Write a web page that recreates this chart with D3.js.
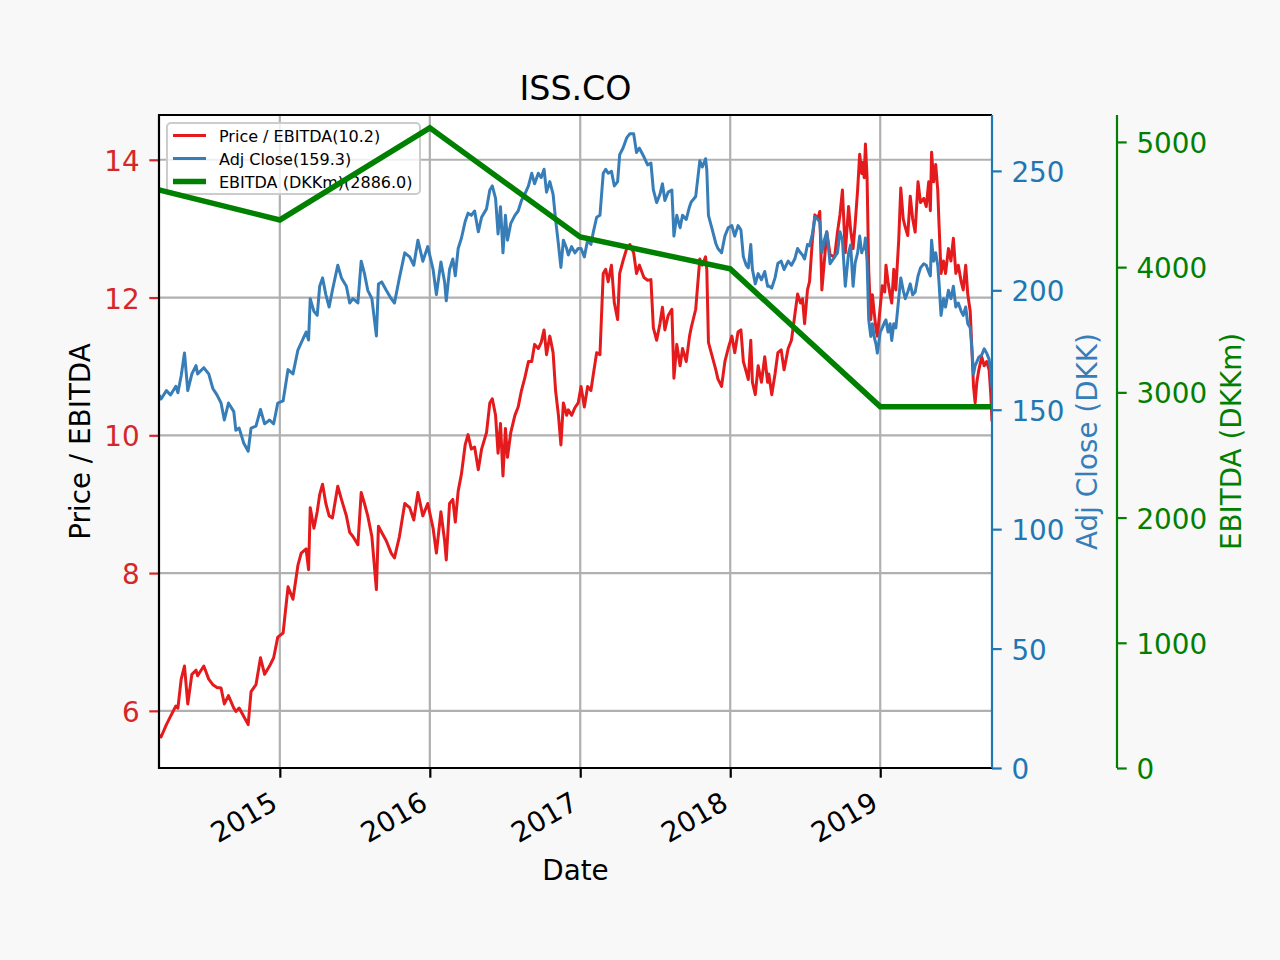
<!DOCTYPE html>
<html>
<head>
<meta charset="utf-8">
<script src="https://d3js.org/d3.v7.min.js"></script>
<style>
  body { margin: 0; background: #f8f8f8; }
  svg { display: block; font-family: "DejaVu Sans", sans-serif; }
</style>
</head>
<body>
<script>
// ---- data ----
const dates = [
  '2014-03-13','2014-03-18','2014-03-31','2014-04-10','2014-04-23','2014-04-28','2014-05-06','2014-05-14','2014-05-22','2014-06-01','2014-06-11','2014-06-15','2014-06-30','2014-07-12','2014-07-22','2014-08-01','2014-08-11','2014-08-19','2014-08-29','2014-09-11','2014-09-16','2014-09-24','2014-10-05','2014-10-16','2014-10-23','2014-11-04','2014-11-15','2014-11-25','2014-12-07','2014-12-17','2014-12-27',
  '2015-01-09','2015-01-21','2015-02-02','2015-02-14','2015-02-22','2015-03-06','2015-03-12','2015-03-16','2015-03-25','2015-04-02','2015-04-08','2015-04-15','2015-04-23','2015-05-01','2015-05-09','2015-05-22','2015-05-31','2015-06-12','2015-06-20','2015-06-28','2015-07-10','2015-07-18','2015-07-26','2015-08-03','2015-08-13','2015-08-24','2015-08-29','2015-09-06','2015-09-17','2015-09-29','2015-10-07','2015-10-19','2015-11-01','2015-11-13','2015-11-23','2015-12-03','2015-12-15','2015-12-27',
  '2016-01-09','2016-01-17','2016-01-28','2016-02-06','2016-02-10','2016-02-18','2016-02-26','2016-03-03','2016-03-10','2016-03-18','2016-03-27','2016-04-03','2016-04-11','2016-04-19','2016-04-28','2016-05-06','2016-05-18','2016-05-26','2016-06-01','2016-06-09','2016-06-15','2016-06-21','2016-06-27','2016-07-03','2016-07-08','2016-07-16','2016-07-26','2016-08-03','2016-08-11','2016-08-19','2016-08-28','2016-09-05','2016-09-12','2016-09-21','2016-09-28','2016-10-05','2016-10-11','2016-10-19','2016-10-27','2016-11-02','2016-11-09','2016-11-15','2016-11-21','2016-11-29','2016-12-03','2016-12-11','2016-12-19','2016-12-27',
  '2017-01-03','2017-01-11','2017-01-19','2017-01-27','2017-02-02','2017-02-10','2017-02-18','2017-02-26','2017-03-04','2017-03-10','2017-03-18','2017-03-25','2017-04-02','2017-04-07','2017-04-15','2017-04-24','2017-05-02','2017-05-11','2017-05-18','2017-05-25','2017-06-05','2017-06-14','2017-06-22','2017-06-28','2017-07-06','2017-07-14','2017-07-20','2017-07-26','2017-08-03','2017-08-12','2017-08-17','2017-08-24','2017-09-01','2017-09-07','2017-09-16','2017-09-24','2017-09-28','2017-10-09','2017-10-19','2017-10-25','2017-11-02','2017-11-05','2017-11-09','2017-11-17','2017-11-27','2017-12-02','2017-12-11','2017-12-19','2017-12-27',
  '2018-01-05','2018-01-12','2018-01-20','2018-01-27','2018-02-02','2018-02-09','2018-02-14','2018-02-20','2018-02-24','2018-03-03','2018-03-10','2018-03-18','2018-03-26','2018-04-02','2018-04-05','2018-04-12','2018-04-20','2018-04-27','2018-05-05','2018-05-12','2018-05-22','2018-05-30','2018-06-07','2018-06-14','2018-06-21','2018-06-26','2018-07-01','2018-07-08','2018-07-13','2018-07-20','2018-07-26','2018-08-02','2018-08-07','2018-08-12','2018-08-18','2018-08-24','2018-09-01','2018-09-12','2018-09-19','2018-09-25','2018-10-01','2018-10-08','2018-10-16','2018-10-21','2018-10-27','2018-11-01','2018-11-07','2018-11-12','2018-11-17','2018-11-19','2018-11-23','2018-11-26','2018-11-30','2018-12-04','2018-12-09','2018-12-13','2018-12-17','2018-12-22','2018-12-25',
  '2019-01-01','2019-01-06','2019-01-12','2019-01-15','2019-01-20','2019-01-25','2019-01-29','2019-02-03','2019-02-08','2019-02-15','2019-02-20','2019-02-26','2019-03-03','2019-03-09','2019-03-15','2019-03-21','2019-03-27','2019-04-03','2019-04-09','2019-04-17','2019-04-23','2019-04-29','2019-05-03','2019-05-06','2019-05-11','2019-05-16','2019-05-21','2019-05-24','2019-05-29','2019-06-04','2019-06-09','2019-06-16','2019-06-22','2019-06-28','2019-07-04','2019-07-10','2019-07-17','2019-07-22','2019-07-28','2019-08-02','2019-08-08','2019-08-12','2019-08-16','2019-08-20','2019-08-24','2019-08-29','2019-09-05','2019-09-11','2019-09-17','2019-09-23','2019-09-27','2019-09-30'
];
const priceEbitda = [
  5.65,5.62,5.80,5.92,6.07,6.04,6.46,6.65,6.10,6.53,6.59,6.51,6.65,6.46,6.38,6.34,6.33,6.10,6.22,6.04,5.99,6.04,5.92,5.80,6.28,6.38,6.77,6.53,6.65,6.77,7.07,
  7.13,7.80,7.62,8.11,8.29,8.35,8.05,8.95,8.65,8.89,9.14,9.29,9.01,8.83,8.80,9.26,9.07,8.83,8.59,8.53,8.41,9.17,9.01,8.83,8.53,7.76,8.68,8.59,8.47,8.29,8.22,8.53,9.01,8.95,8.77,9.17,8.83,9.01,
  8.65,8.29,8.89,8.47,8.19,9.01,9.07,8.74,9.19,9.44,9.86,10.01,9.80,9.83,9.50,9.80,10.04,10.47,10.53,10.29,9.74,10.17,9.41,10.10,9.68,10.04,10.29,10.41,10.65,10.83,11.07,11.07,11.32,11.26,11.35,11.53,11.17,11.44,11.20,10.65,10.29,9.86,10.47,10.29,10.37,10.29,10.40,10.47,
  10.71,10.41,10.71,10.65,10.89,11.20,11.17,12.35,12.41,12.23,12.47,11.92,11.68,12.35,12.53,12.71,12.77,12.65,12.35,12.47,12.29,12.25,12.26,11.56,11.38,11.62,11.86,11.53,11.74,11.83,10.83,11.32,11.01,11.26,11.07,11.44,11.56,11.83,12.56,12.47,12.59,12.41,11.35,11.17,10.95,10.82,10.71,11.07,11.26,
  11.44,11.20,11.50,11.53,11.07,10.92,10.81,11.38,10.77,10.59,11.01,10.77,11.14,10.77,10.89,10.59,10.89,11.20,11.24,10.95,11.26,11.38,11.74,12.05,11.92,11.98,11.62,12.11,12.23,12.84,13.20,13.14,13.25,12.11,12.53,12.95,12.62,12.59,12.95,13.20,13.56,12.65,13.32,12.98,12.71,13.07,13.56,14.08,13.80,13.96,13.74,14.23,13.74,12.40,11.68,12.04,11.80,11.53,11.44,
  11.86,12.17,12.08,12.47,12.23,12.04,11.92,12.41,12.11,12.83,13.59,13.14,13.02,12.90,13.47,13.14,12.95,13.68,13.38,13.44,13.32,13.68,13.26,14.11,13.68,13.93,13.56,13.08,12.35,12.53,12.35,12.71,12.53,12.86,12.35,12.47,12.23,12.11,12.47,12.05,11.80,11.26,10.71,10.47,10.77,10.95,11.14,11.01,11.07,10.95,10.60,10.20
];
const adjClose = [
  156.2,154.5,158.0,156.2,159.8,157.1,164.2,173.8,158.0,165.0,168.5,165.0,167.6,165.0,158.9,156.2,152.8,145.7,152.8,149.2,141.4,142.3,136.1,132.6,142.3,143.1,150.1,144.1,145.7,144.1,152.8,
  153.7,166.8,165.0,175.0,178.0,182.5,179.2,196.5,191.2,189.5,201.7,205.2,198.2,193.0,200.0,210.5,205.2,201.7,194.7,196.5,194.7,212.2,207.0,200.0,196.5,180.9,202.6,203.5,200.0,196.5,194.7,205.2,215.7,214.0,210.5,221.0,212.2,218.3,
  208.7,198.2,211.9,203.5,195.6,208.7,213.1,206.1,217.5,221.9,228.8,232.3,231.4,233.2,224.5,230.6,234.1,242.0,243.7,238.5,223.6,235.0,215.7,231.4,221.0,228.0,231.4,233.2,237.6,240.2,243.7,249.0,244.6,249.0,247.2,250.7,241.1,245.5,240.2,229.7,219.2,209.6,221.0,217.5,214.8,218.3,215.7,217.5,
  217.5,214.0,221.0,219.2,224.5,230.6,231.4,249.0,250.7,249.0,249.8,243.7,245.5,256.8,259.5,263.8,265.6,265.6,257.7,259.5,255.9,252.5,253.3,242.0,236.7,240.2,244.6,237.6,241.1,242.0,222.7,231.4,226.2,231.4,229.7,235.0,237.0,239.3,254.2,251.6,255.1,250.4,231.4,226.2,219.6,217.5,215.7,222.7,226.2,
  227.1,222.7,227.1,225.3,214.0,210.5,209.4,219.2,208.7,202.7,207.0,204.4,207.9,201.7,201.8,200.9,205.2,211.3,212.2,208.7,212.2,210.5,213.1,217.5,215.7,214.8,213.1,219.2,218.6,223.6,230.7,229.7,228.6,215.7,221.0,224.5,211.1,214.0,215.7,224.5,221.0,201.7,215.7,219.0,201.7,211.5,215.7,222.7,215.7,216.9,217.5,221.9,212.2,187.7,180.7,186.0,180.7,177.3,173.7,
  182.5,184.3,186.8,187.6,182.5,186.0,179.0,186.0,184.3,196.5,205.2,200.0,196.5,199.3,202.7,198.1,199.3,206.0,209.4,211.1,210.5,207.7,206.0,221.0,212.2,215.7,210.5,203.5,189.5,196.5,193.0,200.0,196.5,201.7,193.0,194.7,191.2,189.5,193.0,186.0,184.3,175.5,165.0,168.5,170.0,172.0,172.9,175.5,173.7,171.1,166.0,159.3
];
// EBITDA is only known at a few dates, the line joins them
const ebitdaDates  = ['2014-03-13','2015-01-01','2016-01-01','2017-01-01','2018-01-01','2019-01-01','2019-09-30'];
const ebitdaValues = [4617, 4377, 5112, 4241, 3986, 2886, 2886];

const yearTicks   = [2015, 2016, 2017, 2018, 2019];
const ratioTicks  = [6, 8, 10, 12, 14];
const closeTicks  = [0, 50, 100, 150, 200, 250];
const ebitdaTicks = [0, 1000, 2000, 3000, 4000, 5000];
const legendLabels = ['Price / EBITDA(10.2)', 'Adj Close(159.3)', 'EBITDA (DKKm)(2886.0)'];

// ---- layout ----
const width = 1280, height = 960;
const plotLeft = 159, plotRight = 992, plotTop = 115, plotBottom = 768;
const ebitdaAxisX = 1117;
const fontMain = 27.8;
const redLine = '#e41a1c', redTick = '#d62728';
const blueLine = '#377eb8', blueTick = '#1f77b4';
const greenLine = 'green';

const parseDate = d3.timeParse('%Y-%m-%d');
const points = dates.map((d, i) => ({date: parseDate(d), ratio: priceEbitda[i], close: adjClose[i]}));
const ebitda = ebitdaDates.map((d, i) => ({date: parseDate(d), value: ebitdaValues[i]}));

const x = d3.scaleTime()
            .domain([points[0].date, points[points.length - 1].date])
            .range([plotLeft, plotRight]);
const yRatio  = d3.scaleLinear().domain([5.17, 14.65]).range([plotBottom, plotTop]);
const yClose  = d3.scaleLinear().domain([0, 273.4]).range([plotBottom, plotTop]);
const yEbitda = d3.scaleLinear().domain([0, 5215]).range([plotBottom, plotTop]);

const svg = d3.select('body').append('svg')
              .attr('width', width)
              .attr('height', height);

svg.append('rect').attr('width', width).attr('height', height).attr('fill', '#f8f8f8');
svg.append('rect')
   .attr('x', plotLeft).attr('y', plotTop)
   .attr('width', plotRight - plotLeft).attr('height', plotBottom - plotTop)
   .attr('fill', 'white');

svg.append('clipPath').attr('id', 'plotClip')
   .append('rect')
   .attr('x', plotLeft).attr('y', plotTop)
   .attr('width', plotRight - plotLeft).attr('height', plotBottom - plotTop);

// grid (from the left axis and the date axis)
const grid = svg.append('g').attr('stroke', '#b0b0b0').attr('stroke-width', 2.2);
grid.selectAll('.hgrid').data(ratioTicks).join('line')
    .attr('x1', plotLeft).attr('x2', plotRight)
    .attr('y1', d => yRatio(d)).attr('y2', d => yRatio(d));
grid.selectAll('.vgrid').data(yearTicks).join('line')
    .attr('x1', d => x(new Date(d, 0, 1))).attr('x2', d => x(new Date(d, 0, 1)))
    .attr('y1', plotTop).attr('y2', plotBottom);

// red line: Price / EBITDA
svg.append('path')
   .datum(points)
   .attr('clip-path', 'url(#plotClip)')
   .attr('fill', 'none')
   .attr('stroke', redLine)
   .attr('stroke-width', 3)
   .attr('stroke-linejoin', 'round')
   .attr('d', d3.line().x(d => x(d.date)).y(d => yRatio(d.ratio)));

// legend belongs to the first axes, so later lines go over it
const legend = svg.append('g');
legend.append('rect')
      .attr('x', 167).attr('y', 123).attr('width', 253).attr('height', 71)
      .attr('rx', 4)
      .attr('fill', 'white').attr('fill-opacity', 0.8)
      .attr('stroke', '#cccccc').attr('stroke-width', 2);
const legendColors = [redLine, blueLine, greenLine];
const legendWidths = [3, 3, 5.5];
legendLabels.forEach((label, i) => {
  const ly = 135.5 + i * 23;
  legend.append('line')
        .attr('x1', 173).attr('x2', 206).attr('y1', ly).attr('y2', ly)
        .attr('stroke', legendColors[i]).attr('stroke-width', legendWidths[i]);
  legend.append('text')
        .attr('x', 219).attr('y', ly + 6)
        .attr('font-size', 16)
        .text(label);
});

// blue line: Adj Close
svg.append('path')
   .datum(points)
   .attr('clip-path', 'url(#plotClip)')
   .attr('fill', 'none')
   .attr('stroke', blueLine)
   .attr('stroke-width', 3)
   .attr('stroke-linejoin', 'round')
   .attr('d', d3.line().x(d => x(d.date)).y(d => yClose(d.close)));

// green line: EBITDA
svg.append('path')
   .datum(ebitda)
   .attr('clip-path', 'url(#plotClip)')
   .attr('fill', 'none')
   .attr('stroke', greenLine)
   .attr('stroke-width', 5.5)
   .attr('d', d3.line().x(d => x(d.date)).y(d => yEbitda(d.value)));

// axes
function styleAxis(g, color) {
  g.attr('font-size', fontMain).attr('font-family', 'DejaVu Sans');
  g.select('.domain').remove();
  g.selectAll('.tick line').attr('stroke', color).attr('stroke-width', 2.2);
  g.selectAll('.tick text').attr('fill', color);
}

const axLeft = svg.append('g')
   .attr('transform', `translate(${plotLeft},0)`)
   .call(d3.axisLeft(yRatio).tickValues(ratioTicks).tickSize(9.7).tickPadding(9.7));
styleAxis(axLeft, redTick);
axLeft.selectAll('.tick text').attr('dy', '0.38em');

const axRight = svg.append('g')
   .attr('transform', `translate(${plotRight},0)`)
   .call(d3.axisRight(yClose).tickValues(closeTicks).tickSize(9.7).tickPadding(9.7));
styleAxis(axRight, blueTick);
axRight.selectAll('.tick text').attr('dy', '0.38em');

const axEbitda = svg.append('g')
   .attr('transform', `translate(${ebitdaAxisX},0)`)
   .call(d3.axisRight(yEbitda).tickValues(ebitdaTicks).tickFormat(d3.format('d'))
           .tickSize(9.7).tickPadding(9.7));
styleAxis(axEbitda, greenLine);
axEbitda.selectAll('.tick text').attr('dy', '0.38em');

const axBottom = svg.append('g')
   .attr('transform', `translate(0,${plotBottom})`)
   .call(d3.axisBottom(x)
           .tickValues(yearTicks.map(yr => new Date(yr, 0, 1)))
           .tickFormat(d3.timeFormat('%Y'))
           .tickSize(9.7));
styleAxis(axBottom, 'black');
axBottom.selectAll('.tick text')
        .attr('y', null).attr('dy', null)
        .attr('text-anchor', 'end')
        .attr('transform', 'translate(-1,40) rotate(-30)');

// spines
const spines = svg.append('g').attr('stroke-width', 2.2).attr('fill', 'none');
spines.append('path')
      .attr('d', `M${plotRight},${plotTop}H${plotLeft}V${plotBottom}H${plotRight}`)
      .attr('stroke', 'black');
spines.append('line')
      .attr('x1', plotRight).attr('x2', plotRight).attr('y1', plotTop).attr('y2', plotBottom)
      .attr('stroke', blueTick);
spines.append('line')
      .attr('x1', ebitdaAxisX).attr('x2', ebitdaAxisX).attr('y1', plotTop).attr('y2', plotBottom)
      .attr('stroke', greenLine);

// titles and axis labels
svg.append('text')
   .attr('x', (plotLeft + plotRight) / 2).attr('y', 100)
   .attr('text-anchor', 'middle').attr('font-size', 33.3)
   .text('ISS.CO');
svg.append('text')
   .attr('x', (plotLeft + plotRight) / 2).attr('y', 880)
   .attr('text-anchor', 'middle').attr('font-size', fontMain)
   .text('Date');
const midY = (plotTop + plotBottom) / 2;
svg.append('text')
   .attr('transform', `translate(90,${midY}) rotate(-90)`)
   .attr('text-anchor', 'middle').attr('font-size', fontMain)
   .text('Price / EBITDA');
svg.append('text')
   .attr('transform', `translate(1097,${midY}) rotate(-90)`)
   .attr('text-anchor', 'middle').attr('font-size', fontMain)
   .attr('fill', blueLine)
   .text('Adj Close (DKK)');
svg.append('text')
   .attr('transform', `translate(1241,${midY}) rotate(-90)`)
   .attr('text-anchor', 'middle').attr('font-size', fontMain)
   .attr('fill', greenLine)
   .text('EBITDA (DKKm)');
</script>
</body>
</html>
